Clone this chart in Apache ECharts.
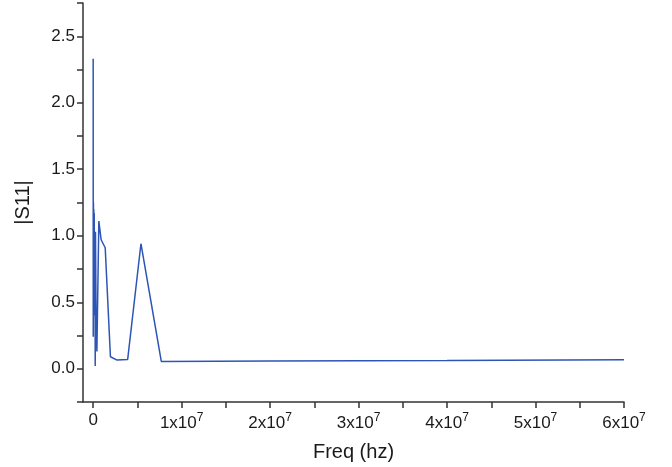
<!DOCTYPE html>
<html>
<head>
<meta charset="utf-8">
<script src="https://cdn.jsdelivr.net/npm/echarts@6/dist/echarts.min.js"></script>
<style>html,body{margin:0;padding:0;background:#fff;}#c{width:672px;height:467px;}</style>
</head>
<body>
<div id="c"></div>
<script>
// Frequency (Hz) and |S11| values
var freq = [0, 1e4, 3e4, 5e4, 7e4, 9e4, 1.2e5, 1.6e5, 2e5, 2.3e5, 2.6e5, 3.3e5, 4.2e5, 6.4e5, 9e5, 1.36e6, 1.95e6, 2.7e6, 3.9e6, 5.4e6, 7.7e6, 2e7, 4e7, 6e7];
var s11  = [2.33, 0.24, 1.25, 0.45, 1.2, 0.6, 1.17, 0.4, 1.0, 0.02, 1.03, 0.37, 0.13, 1.11, 0.97, 0.91, 0.09, 0.065, 0.07, 0.94, 0.055, 0.058, 0.062, 0.068];
var xLabelValues = [0, 1e7, 2e7, 3e7, 4e7, 5e7, 6e7];
var xTickValues = [0, 0.5e7, 1e7, 1.5e7, 2e7, 2.5e7, 3e7, 3.5e7, 4e7, 4.5e7, 5e7, 5.5e7, 6e7];
var yLabelValues = [0, 0.5, 1.0, 1.5, 2.0, 2.5];
var yTickValues = [-0.25, 0, 0.25, 0.5, 0.75, 1.0, 1.25, 1.5, 1.75, 2.0, 2.25, 2.5, 2.75];

var data = freq.map(function (f, i) { return [f, s11[i]]; });
var font = 'Liberation Sans, Arial, sans-serif';
var axisColor = '#333';
var textColor = '#1a1a1a';

var chart = echarts.init(document.getElementById('c'));
chart.setOption({
  backgroundColor: '#fff',
  animation: false,
  grid: { left: 83, right: 48, top: 3, bottom: 64, containLabel: false },
  xAxis: {
    type: 'value',
    min: -1.15e6, max: 6e7,
    name: 'Freq (hz)', nameLocation: 'middle', nameGap: 40,
    nameTextStyle: { fontFamily: font, fontSize: 20, color: textColor },
    axisLine: { show: true, onZero: false, lineStyle: { color: axisColor, width: 1.5 } },
    axisTick: { show: true, length: 6, customValues: xTickValues, lineStyle: { color: axisColor, width: 1.5 } },
    splitLine: { show: false },
    axisLabel: {
      customValues: xLabelValues, margin: 10,
      fontFamily: font, fontSize: 17, color: textColor,
      formatter: function (v) {
        if (v === 0) return '0';
        return (v / 1e7) + 'x10{sup|7}';
      },
      rich: { sup: { fontSize: 12, fontFamily: font, color: textColor, verticalAlign: 'top', padding: [0, 0, 10, 0] } }
    }
  },
  yAxis: {
    type: 'value',
    min: -0.25, max: 2.75,
    name: '|S11|', nameLocation: 'middle', nameGap: 50,
    nameTextStyle: { fontFamily: font, fontSize: 20, color: textColor },
    axisLine: { show: true, onZero: false, lineStyle: { color: axisColor, width: 1.5 } },
    axisTick: { show: true, length: 6, customValues: yTickValues, lineStyle: { color: axisColor, width: 1.5 } },
    splitLine: { show: false },
    axisLabel: {
      customValues: yLabelValues, margin: 8,
      fontFamily: font, fontSize: 17, color: textColor,
      formatter: function (v) { return v.toFixed(1); }
    }
  },
  series: [{
    type: 'line',
    data: data,
    showSymbol: false,
    lineStyle: { color: '#2d55b5', width: 1.5 },
    itemStyle: { color: '#2d55b5' }
  }]
});
</script>
</body>
</html>
